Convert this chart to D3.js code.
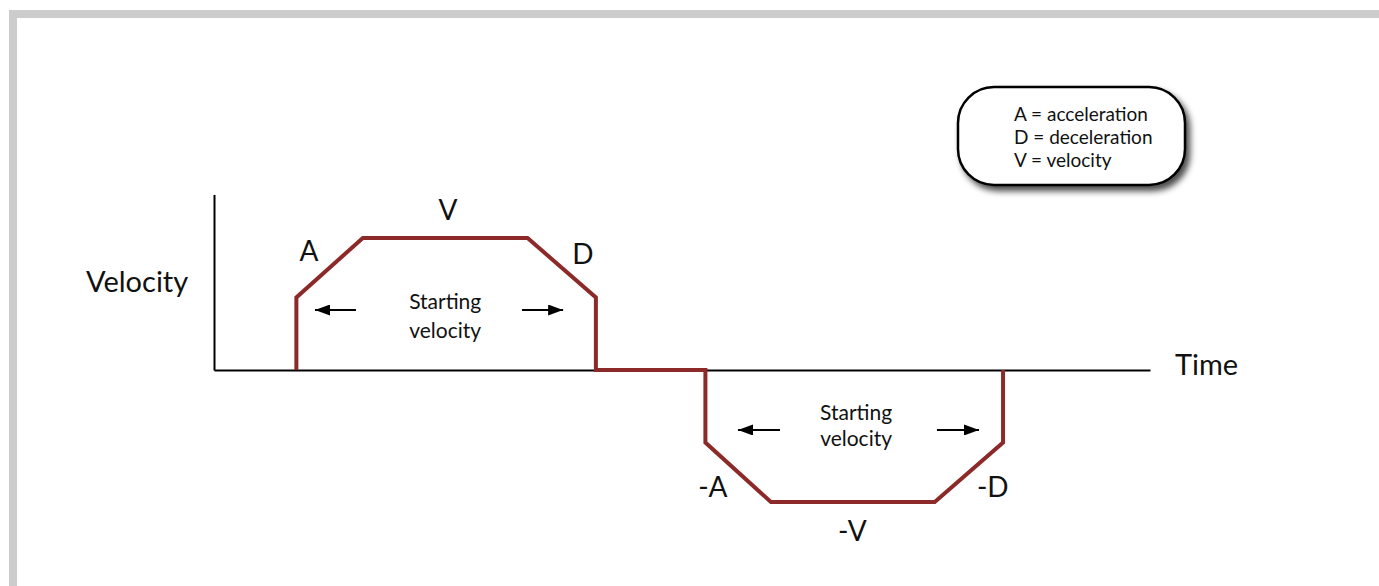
<!DOCTYPE html>
<html><head><meta charset="utf-8">
<script src="https://cdn.jsdelivr.net/npm/d3@7"></script>
<style>
html,body{margin:0;padding:0;background:#fff;}
svg{display:block;}
text{font-family:Lato,"Open Sans",sans-serif;fill:#111;}
</style></head>
<body>
<svg id="chart" width="1379" height="586"></svg>
<script>
// profile data (time in arbitrary units 0..100, velocity relative to V)
const times      = [8.8, 8.8, 15.9, 33.5, 40.8, 40.8, 52.5, 52.5, 59.5, 77.0, 84.3, 84.3];
const velocities = [0,   0.55, 1,   1,    0.55, 0,    0,    -0.55,-1,   -1,   -0.55, 0];
const axisLabels = ["Velocity", "Time"];
const segmentText = ["A", "V", "D", "-A", "-V", "-D"];
const legendLines = ["A = acceleration", "D = deceleration", "V = velocity"];
const startText = ["Starting", "velocity"];

// layout (in data coordinates)
const segmentPos = [[10.15,0.91],[25.0,1.22],[39.4,0.89],[53.3,-0.88],[68.2,-1.21],[83.2,-0.88]];
const startAnn = [
  {t:24.7, lineV:[0.53,0.31], arrowV:0.4545, left:[15.17,10.79], right:[32.9,37.3]},
  {t:68.6, lineV:[-0.318,-0.515], arrowV:-0.4545, left:[60.47,55.98], right:[77.24,81.73]}
];

const svg = d3.select("#chart");
const x = d3.scaleLinear().domain([0,100]).range([214,1150]);
const y = d3.scaleLinear().domain([0,1]).range([370,238]);

// frame
svg.append("rect").attr("x",9).attr("y",10).attr("width",1370).attr("height",8).attr("fill","#cccccc");
svg.append("rect").attr("x",9).attr("y",10).attr("width",8).attr("height",576).attr("fill","#cccccc");

// axes
const xAxis = d3.axisBottom(x).tickValues([]).tickSizeOuter(0);
const yAxis = d3.axisLeft(d3.scaleLinear().domain([0,1.33]).range([y(0), y(1.33)])).tickValues([]).tickSizeOuter(0);
svg.append("g").attr("transform",`translate(0,${y(0)})`).call(xAxis)
  .select(".domain").attr("stroke","#000").attr("stroke-width",2);
svg.append("g").attr("transform",`translate(${x(0)},0)`).call(yAxis)
  .select(".domain").attr("stroke","#000").attr("stroke-width",2);

svg.append("text").attr("x",86).attr("y",292).attr("font-size",29).text(axisLabels[0]);
svg.append("text").attr("x",1175).attr("y",375).attr("font-size",29).text(axisLabels[1]);

// profile line
const pts = times.map((t,i)=>[t,velocities[i]]);
svg.append("path").datum(pts)
  .attr("d", d3.line().x(d=>x(d[0])).y(d=>y(d[1])))
  .attr("fill","none").attr("stroke","#8c2a2a").attr("stroke-width",4)
  .attr("stroke-linejoin","miter");

// segment labels
svg.selectAll("text.seg").data(segmentText).join("text").attr("class","seg")
  .attr("x",(d,i)=>x(segmentPos[i][0])).attr("y",(d,i)=>y(segmentPos[i][1])).attr("text-anchor","middle")
  .attr("dominant-baseline","central").attr("font-size",28).text(d=>d);

// defs
const defs = svg.append("defs");
defs.append("marker").attr("id","arr").attr("viewBox","0 0 15 11").attr("refX",15).attr("refY",5.5)
  .attr("markerWidth",15).attr("markerHeight",11).attr("markerUnits","userSpaceOnUse").attr("orient","auto")
  .append("path").attr("d","M0,0 L15,5.5 L0,11 Z").attr("fill","#000");
const filt = defs.append("filter").attr("id","shadow").attr("x","-20%").attr("y","-20%").attr("width","150%").attr("height","160%");
filt.append("feDropShadow").attr("dx",4).attr("dy",5).attr("stdDeviation",3).attr("flood-color","#000").attr("flood-opacity",0.7);

// starting velocity annotations
startAnn.forEach(s=>{
  const g = svg.append("g");
  g.selectAll("text").data(startText).join("text")
    .attr("x",x(s.t)).attr("y",(d,i)=>y(s.lineV[i])).attr("text-anchor","middle")
    .attr("dominant-baseline","central").attr("font-size",21).text(d=>d);
  [s.left, s.right].forEach(a=>{
    g.append("line").attr("x1",x(a[0])).attr("x2",x(a[1])).attr("y1",y(s.arrowV)).attr("y2",y(s.arrowV))
      .attr("stroke","#000").attr("stroke-width",2).attr("marker-end","url(#arr)");
  });
});

// legend
const lg = svg.append("g");
lg.append("rect").attr("x",958).attr("y",87).attr("width",227).attr("height",98).attr("rx",36).attr("ry",36)
  .attr("fill","#fff").attr("stroke","#000").attr("stroke-width",2.5).attr("filter","url(#shadow)");
lg.selectAll("text").data(legendLines).join("text")
  .attr("x",1014).attr("y",(d,i)=>113+i*23).attr("dominant-baseline","central")
  .attr("font-size",19).text(d=>d);
</script>
</body></html>
